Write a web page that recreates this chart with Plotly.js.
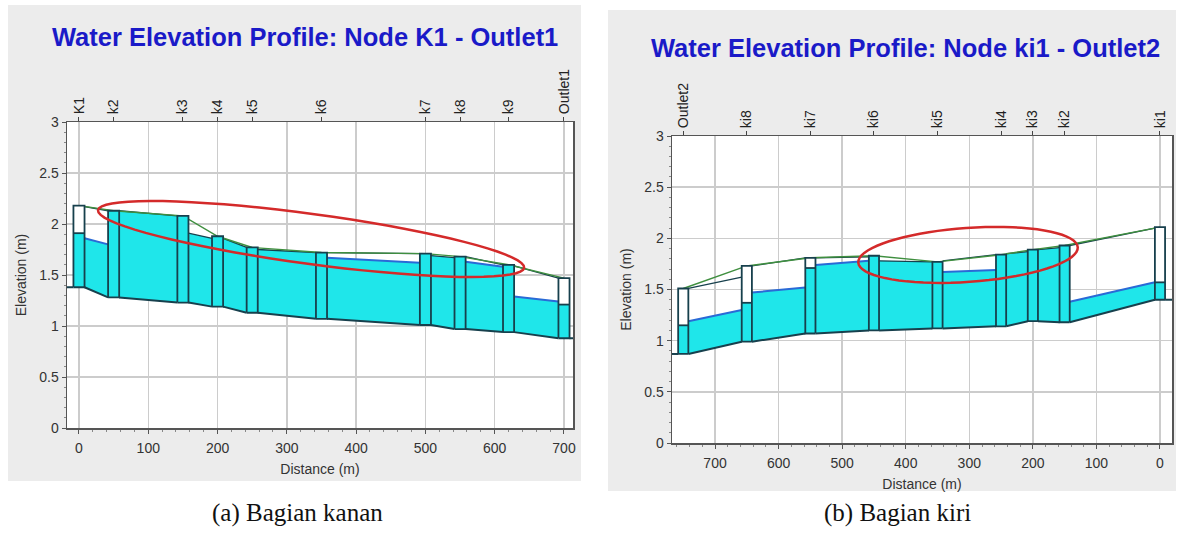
<!DOCTYPE html>
<html><head><meta charset="utf-8">
<script src="https://cdn.plot.ly/plotly-3.0.1.min.js"></script>
<style>html,body{margin:0;padding:0;background:#fff;}#chart{width:1178px;height:535px;}</style>
</head><body><div id="chart"></div>
<script>
// ---------- Panel (a): Node K1 - Outlet1 ----------
const nodesA = ['K1','k2','k3','k4','k5','k6','k7','k8','k9','Outlet1'];
const distA = [0, 50, 150, 200, 250, 350, 500, 550, 620, 700];
const rimA = [2.18, 2.13, 2.08, 1.88, 1.77, 1.72, 1.71, 1.68, 1.60, 1.47];
const invertA = [1.38, 1.28, 1.23, 1.19, 1.13, 1.07, 1.01, 0.97, 0.94, 0.88];
const nodeWaterA = [1.91, 2.13, 2.08, 1.88, 1.77, 1.72, 1.71, 1.68, 1.60, 1.21];
const crownUpA = [2.17, 2.13, 1.91, 1.86, 1.75, 1.72, 1.69, 1.68, 1.59];
const crownDnA = [2.13, 2.08, 1.86, 1.77, 1.72, 1.71, 1.67, 1.60, 1.47];
const waterUpA = [1.86, 2.13, 1.91, 1.86, 1.75, 1.67, 1.69, 1.63, 1.29];
const waterDnA = [1.80, 2.08, 1.86, 1.77, 1.72, 1.62, 1.67, 1.58, 1.24];

// ---------- Panel (b): Node ki1 - Outlet2 ----------
const nodesB = ['ki1','ki2','ki3','ki4','ki5','ki6','ki7','ki8','Outlet2'];
const distB = [0, 150, 200, 250, 350, 450, 550, 650, 750];
const rimB = [2.11, 1.93, 1.89, 1.84, 1.77, 1.83, 1.81, 1.73, 1.51];
const invertB = [1.40, 1.18, 1.19, 1.14, 1.12, 1.10, 1.07, 0.99, 0.87];
const nodeWaterB = [1.57, 1.93, 1.89, 1.84, 1.77, 1.83, 1.71, 1.37, 1.15];
const crownUpB = [2.10, 1.91, 1.87, 1.84, 1.77, 1.82, 1.81, 1.62];
const crownDnB = [1.93, 1.89, 1.85, 1.78, 1.78, 1.81, 1.73, 1.51];
const waterUpB = [1.57, 1.91, 1.87, 1.69, 1.77, 1.78, 1.52, 1.30];
const waterDnB = [1.38, 1.89, 1.85, 1.67, 1.78, 1.74, 1.47, 1.19];

const titleA = 'Water Elevation Profile: Node K1 - Outlet1';
const titleB = 'Water Elevation Profile: Node ki1 - Outlet2';
const captionA = '(a) Bagian kanan';
const captionB = '(b) Bagian kiri';

// ---------- layout geometry ----------
const W = 1178, H = 535;
const xRangeA = [-17.3, 713];
const xRangeB = [767.7, -18.9];
const yRange = [0, 3];
const domXA = [67 / W, 573 / W], domYA = [1 - 428 / H, 1 - 122 / H];
const domXB = [672 / W, 1172 / W], domYB = [1 - 443 / H, 1 - 136 / H];
const HW = 8; // half width of manhole box, m

const CYAN = '#1fe6ea', DARK = '#17404d', BLUE = '#2a6ad6', GREEN = '#3f8f3f';
const FONT = 'Liberation Sans, Arial, sans-serif';

function profileTraces(d, rim, inv, nw, cu, cd, wu, wd, xa, ya, xr) {
  const t = [];
  const fx = [], fy = [], wx = [], wy = [], cx = [], cy = [], ix = [], iy = [];
  for (let i = 0; i < d.length - 1; i++) {
    const x0 = d[i] + HW, x1 = d[i + 1] - HW;
    const tu = Math.min(wu[i], cu[i]), td = Math.min(wd[i], cd[i]);
    fx.push(x0, x1, x1, x0, x0, null);
    fy.push(inv[i], inv[i + 1], td, tu, inv[i], null);
    if (wu[i] < cu[i] - 0.005) { wx.push(x0, x1, null); wy.push(wu[i], wd[i], null); }
    cx.push(x0, x1, null); cy.push(cu[i], cd[i], null);
    ix.push(x0, x1, null); iy.push(inv[i], inv[i + 1], null);
  }
  const lo = Math.min(xr[0], xr[1]), hi = Math.max(xr[0], xr[1]);
  const iMin = d.indexOf(Math.min(...d)), iMax = d.indexOf(Math.max(...d));
  ix.push(lo, d[iMin] - HW, null); iy.push(inv[iMin], inv[iMin], null);
  ix.push(d[iMax] + HW, hi, null); iy.push(inv[iMax], inv[iMax], null);
  const base = {xaxis: xa, yaxis: ya, hoverinfo: 'skip', showlegend: false, type: 'scatter'};
  t.push(Object.assign({}, base, {x: fx, y: fy, mode: 'lines', fill: 'toself', fillcolor: CYAN, line: {width: 0}}));
  t.push(Object.assign({}, base, {x: wx, y: wy, mode: 'lines', line: {color: BLUE, width: 2}}));
  t.push(Object.assign({}, base, {x: cx, y: cy, mode: 'lines', line: {color: DARK, width: 1.3}}));
  t.push(Object.assign({}, base, {x: ix, y: iy, mode: 'lines', line: {color: DARK, width: 2}}));
  t.push(Object.assign({}, base, {x: d, y: rim, mode: 'lines', line: {color: GREEN, width: 1.4}}));
  // node boxes
  const bx = [], by = [], qx = [], qy = [], ox = [], oy = [];
  for (let i = 0; i < d.length; i++) {
    const a = d[i] - HW, b = d[i] + HW;
    bx.push(a, b, b, a, a, null); by.push(inv[i], inv[i], rim[i], rim[i], inv[i], null);
    qx.push(a, b, b, a, a, null); qy.push(inv[i], inv[i], nw[i], nw[i], inv[i], null);
    ox.push(a, b, b, a, a, null); oy.push(inv[i], inv[i], rim[i], rim[i], inv[i], null);
    if (nw[i] < rim[i] - 0.005) { ox.push(a, b, null); oy.push(nw[i], nw[i], null); }
  }
  t.push(Object.assign({}, base, {x: bx, y: by, mode: 'lines', fill: 'toself', fillcolor: '#ffffff', line: {width: 0}}));
  t.push(Object.assign({}, base, {x: qx, y: qy, mode: 'lines', fill: 'toself', fillcolor: CYAN, line: {width: 0}}));
  t.push(Object.assign({}, base, {x: ox, y: oy, mode: 'lines', line: {color: DARK, width: 1.8}}));
  return t;
}

const data = [].concat(
  profileTraces(distA, rimA, invertA, nodeWaterA, crownUpA, crownDnA, waterUpA, waterDnA, 'x', 'y', xRangeA),
  profileTraces(distB, rimB, invertB, nodeWaterB, crownUpB, crownDnB, waterUpB, waterDnB, 'x2', 'y2', xRangeB),
  [{type: 'scatter', x: distA, y: rimA, mode: 'none', xaxis: 'x3', yaxis: 'y', hoverinfo: 'skip', showlegend: false},
   {type: 'scatter', x: distB, y: rimB, mode: 'none', xaxis: 'x4', yaxis: 'y2', hoverinfo: 'skip', showlegend: false}]
);

function xAxis(dom, range, anchor) {
  return {domain: dom, range: range, anchor: anchor, tick0: 0, dtick: 100,
    showgrid: true, gridcolor: '#cccccc', gridwidth: 1.5, zeroline: false,
    showline: true, mirror: true, linecolor: '#555', linewidth: 1.5,
    ticks: 'outside', ticklen: 4, tickcolor: '#555', ticklabelstandoff: 3,
    minor: {dtick: 20, ticks: 'outside', ticklen: 2, tickcolor: '#888', showgrid: false},
    tickfont: {family: FONT, size: 14, color: '#333'},
    title: {text: 'Distance (m)', font: {family: FONT, size: 14, color: '#333'}, standoff: 9}};
}
function yAxis(dom, anchor) {
  return {domain: dom, range: yRange, anchor: anchor, tick0: 0, dtick: 0.5,
    showgrid: true, gridcolor: '#cccccc', gridwidth: 1.5, zeroline: false,
    showline: true, mirror: true, linecolor: '#555', linewidth: 1.5,
    ticks: 'outside', ticklen: 4, tickcolor: '#555',
    minor: {dtick: 0.1, ticks: 'outside', ticklen: 2, tickcolor: '#888', showgrid: false},
    tickfont: {family: FONT, size: 14, color: '#333'},
    title: {text: 'Elevation (m)', font: {family: FONT, size: 14, color: '#333'}, standoff: 9}};
}
function topAxis(over, range, anchor, vals, text) {
  return {overlaying: over, anchor: anchor, side: 'top', range: range,
    tickmode: 'array', tickvals: vals, ticktext: text, tickangle: -90,
    ticks: 'outside', ticklen: 4, tickcolor: '#444', showgrid: false, showline: false, zeroline: false,
    tickfont: {family: FONT, size: 14, color: '#222'}};
}

function ellipsePath(cx, cy, a, b, angDeg, xdom, xr, ydom, yr) {
  const sx = (xdom[1] - xdom[0]) * W / (xr[1] - xr[0]);
  const sy = (ydom[1] - ydom[0]) * H / (yr[1] - yr[0]);
  const th = angDeg * Math.PI / 180;
  let p = '';
  for (let k = 0; k <= 72; k++) {
    const t = 2 * Math.PI * k / 72;
    const dx = a * Math.cos(t) * Math.cos(th) - b * Math.sin(t) * Math.sin(th);
    const dy = a * Math.cos(t) * Math.sin(th) + b * Math.sin(t) * Math.cos(th);
    const X = cx + dx / sx, Y = cy - dy / sy;
    p += (k === 0 ? 'M' : 'L') + X.toFixed(3) + ',' + Y.toFixed(4);
  }
  return p + 'Z';
}

const shapes = [
  {type: 'rect', xref: 'paper', yref: 'paper', x0: 8 / W, x1: 581 / W, y0: 1 - 481 / H, y1: 1 - 5 / H, fillcolor: '#ececec', line: {width: 0}, layer: 'below'},
  {type: 'rect', xref: 'paper', yref: 'paper', x0: 608 / W, x1: 1176 / W, y0: 1 - 491 / H, y1: 1 - 10 / H, fillcolor: '#ececec', line: {width: 0}, layer: 'below'},
  {type: 'rect', xref: 'x domain', yref: 'y domain', x0: 0, x1: 1, y0: 0, y1: 1, fillcolor: '#ffffff', line: {width: 0}, layer: 'below'},
  {type: 'rect', xref: 'x2 domain', yref: 'y2 domain', x0: 0, x1: 1, y0: 0, y1: 1, fillcolor: '#ffffff', line: {width: 0}, layer: 'below'},
  {type: 'path', xref: 'x', yref: 'y', path: ellipsePath(335, 1.853, 215, 25, 7.7, domXA, xRangeA, domYA, yRange), line: {color: '#d42a2a', width: 2.5}, layer: 'above'},
  {type: 'path', xref: 'x2', yref: 'y2', path: ellipsePath(302, 1.838, 110, 27, -4, domXB, xRangeB, domYB, yRange), line: {color: '#d42a2a', width: 2.5}, layer: 'above'}
];

const annotations = [
  {text: '<b>' + titleA + '</b>', xref: 'paper', yref: 'paper', x: 305 / W, y: 1 - 37 / H, xanchor: 'center', yanchor: 'middle', showarrow: false, font: {family: FONT, size: 25.5, color: '#1a1ac8'}},
  {text: '<b>' + titleB + '</b>', xref: 'paper', yref: 'paper', x: 905 / W, y: 1 - 48 / H, xanchor: 'center', yanchor: 'middle', showarrow: false, font: {family: FONT, size: 25.5, color: '#1a1ac8'}},
  {text: captionA, xref: 'paper', yref: 'paper', x: 297 / W, y: 1 - 513 / H, xanchor: 'center', yanchor: 'middle', showarrow: false, font: {family: 'Liberation Serif, Times New Roman, serif', size: 25, color: '#111'}},
  {text: captionB, xref: 'paper', yref: 'paper', x: 897 / W, y: 1 - 513 / H, xanchor: 'center', yanchor: 'middle', showarrow: false, font: {family: 'Liberation Serif, Times New Roman, serif', size: 25, color: '#111'}}
];

const layout = {
  width: W, height: H, margin: {l: 0, r: 0, t: 0, b: 0},
  paper_bgcolor: '#ffffff', plot_bgcolor: 'rgba(0,0,0,0)', showlegend: false,
  font: {family: FONT},
  xaxis: xAxis(domXA, xRangeA, 'y'),
  yaxis: yAxis(domYA, 'x'),
  xaxis2: xAxis(domXB, xRangeB, 'y2'),
  yaxis2: yAxis(domYB, 'x2'),
  xaxis3: topAxis('x', xRangeA, 'y', distA, nodesA),
  xaxis4: topAxis('x2', xRangeB, 'y2', distB, nodesB),
  shapes: shapes, annotations: annotations
};

Plotly.newPlot('chart', data, layout, {staticPlot: true, displayModeBar: false});
</script></body></html>
